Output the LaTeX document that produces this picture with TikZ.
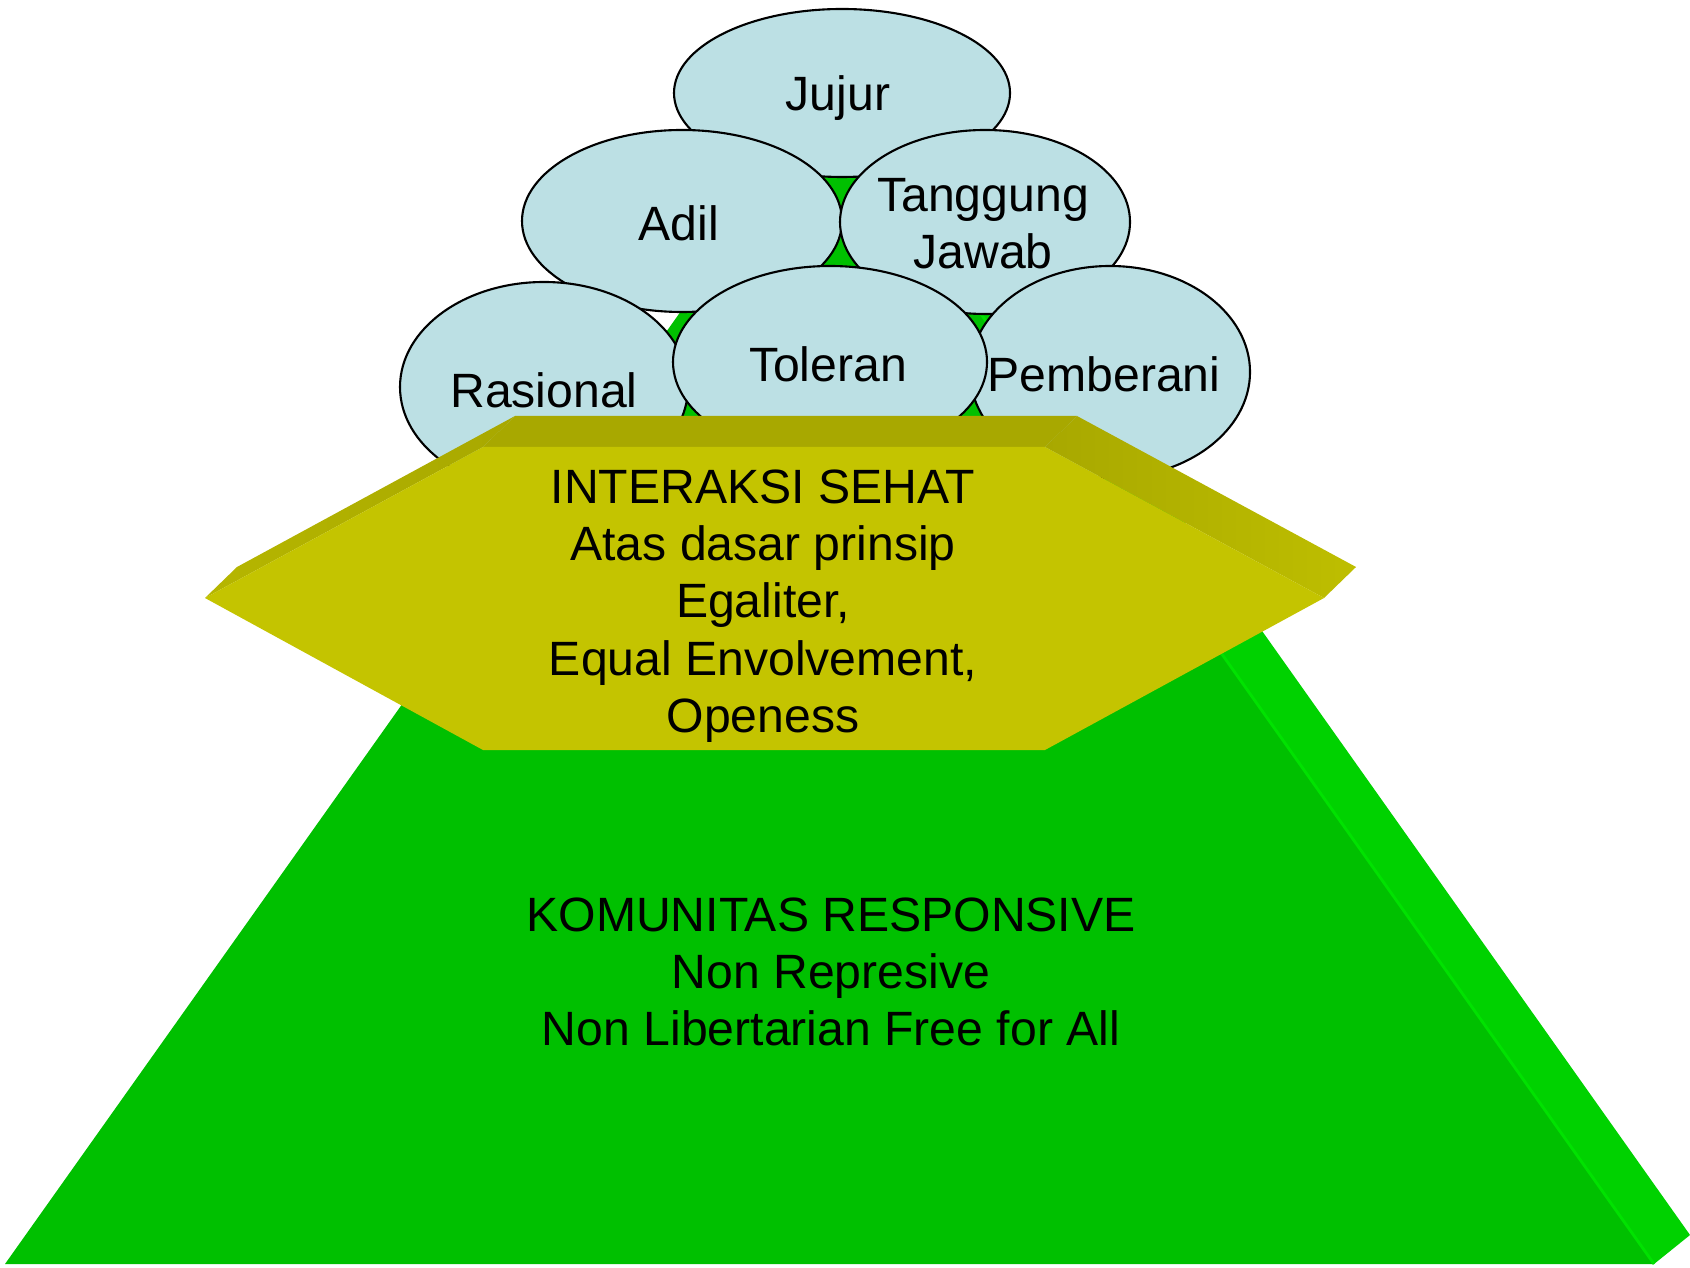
\documentclass[tikz,border=0pt]{standalone}
\usepackage{fontspec}
\setmainfont{Liberation Sans}
\usepackage{tikz}
\usetikzlibrary{shapes.geometric}

\definecolor{bubblefill}{RGB}{188,224,228}
\definecolor{pyrfront}{RGB}{0,192,0}
\definecolor{pyrside}{RGB}{0,210,0}
\definecolor{pyredge}{RGB}{0,226,0}
\definecolor{hexfront}{RGB}{196,196,0}
\definecolor{hextop}{RGB}{168,168,0}
\definecolor{hexleft}{RGB}{182,182,0}
\definecolor{hexright}{RGB}{190,190,0}

\tikzset{
	bubble/.style={ellipse,draw=black,line width=0.6pt,fill=bubblefill,inner sep=0pt},
	word/.style={font=\fontsize{13.7}{16.3}\selectfont,align=center,inner sep=0pt},
}

\begin{document}
\begin{tikzpicture}
				\useasboundingbox (0,0) rectangle (16.9,12.67);
				
				\coordinate (pl) at (0.05,0.03);
				\coordinate (pr) at (16.54,0.03);
				\coordinate (pt) at (8.30,11.66);
				\coordinate (qr) at (16.90,0.32);
				\coordinate (qt) at (8.66,11.95);
				\fill[pyrside] (pr) -- (qr) -- (qt) -- (pt) -- cycle;
				\fill[pyrfront] (pl) -- (pr) -- (pt) -- cycle;
				\draw[pyredge,line width=0.8pt] (pr) -- (pt);
				
				\node (jujur) at (8.42,11.74) [bubble,minimum width=3.36cm,minimum height=1.68cm] {};
				\node (adil) at (6.82,10.46) [bubble,minimum width=3.20cm,minimum height=1.82cm] {};
				\node (tanggung) at (9.85,10.45) [bubble,minimum width=2.90cm,minimum height=1.84cm] {};
				\node (rasional) at (5.44,8.80) [bubble,minimum width=2.88cm,minimum height=2.10cm] {};
				\node (pemberani) at (11.10,8.95) [bubble,minimum width=2.80cm,minimum height=2.12cm] {};
				\node (toleran) at (8.30,9.05) [bubble,minimum width=3.14cm,minimum height=1.92cm] {};
				
				\node (jujur-t) at (8.38,11.69) [word] {Jujur};
				\node (adil-t) at (6.79,10.44) [word] {Adil};
				\node (tanggung-t) at (9.83,10.43) [word] {Tanggung\\Jawab};
				\node (rasional-t) at (5.44,8.77) [word] {Rasional};
				\node (toleran-t) at (8.28,9.03) [word] {Toleran};
				\node (pemberani-t) at (11.04,8.93) [word] {Pemberani};
				
				\coordinate (f1) at (4.83,8.20);
				\coordinate (f2) at (10.45,8.20);
				\coordinate (f3) at (13.24,6.69);
				\coordinate (f4) at (10.45,5.17);
				\coordinate (f5) at (4.83,5.17);
				\coordinate (f6) at (2.05,6.69);
				\foreach \i in {1,...,6}
					\coordinate (b\i) at ([shift={(0.32,0.31)}]f\i);
				
				\fill[hextop] (f1) -- (f2) -- (b2) -- (b1) -- cycle;
				\shade[left color=hexleft,right color=hextop] (f6) -- (f1) -- (b1) -- (b6) -- cycle;
				\shade[left color=hextop,right color=hexright] (f2) -- (f3) -- (b3) -- (b2) -- cycle;
				\fill[hexfront] (f1) -- (f2) -- (f3) -- (f4) -- (f5) -- (f6) -- cycle;
				
				\node (interaksi) at (7.63,6.61) [word] {INTERAKSI SEHAT\\Atas dasar prinsip\\Egaliter,\\Equal Envolvement,\\Openess};
				\node (komunitas) at (8.31,2.95) [word] {KOMUNITAS RESPONSIVE\\Non Represive\\Non Libertarian Free for All};
			\end{tikzpicture}
\end{document}
